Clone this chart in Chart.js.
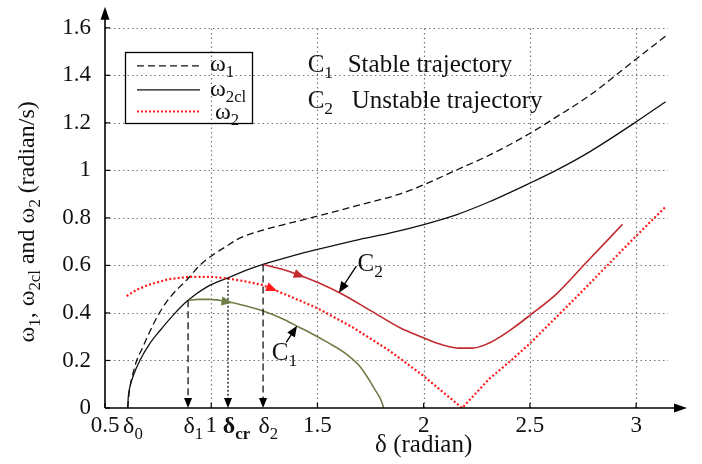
<!DOCTYPE html>
<html>
<head>
<meta charset="utf-8">
<script src="https://cdn.jsdelivr.net/npm/chart.js@4/dist/chart.umd.min.js"></script>
<style>
html, body { margin: 0; padding: 0; background: #fff; }
#wrap { width: 702px; height: 464px; }
</style>
</head>
<body>
<div id="wrap"><canvas id="chart" width="702" height="464"></canvas></div>
<script>
// Values: delta (radian) vs omega (radian/s)
const omega1X = [0.607, 0.612, 0.620, 0.633, 0.649, 0.675, 0.710, 0.756, 0.810, 0.891, 0.946, 1.001, 1.070, 1.134, 1.230, 1.338, 1.495, 1.700, 1.886, 1.996, 2.153, 2.309, 2.497, 2.623, 2.779, 2.998, 3.139];
const omega1Y = [0.000, 0.050, 0.100, 0.150, 0.200, 0.250, 0.320, 0.400, 0.470, 0.545, 0.600, 0.640, 0.680, 0.715, 0.745, 0.771, 0.806, 0.855, 0.900, 0.938, 1.001, 1.064, 1.154, 1.224, 1.314, 1.467, 1.565];

const omega2clX = [0.607, 0.609, 0.617, 0.635, 0.664, 0.710, 0.758, 0.820, 0.891, 0.980, 1.079, 1.160, 1.244, 1.370, 1.495, 1.700, 1.839, 1.996, 2.153, 2.309, 2.497, 2.623, 2.779, 2.998, 3.139];
const omega2clY = [0.000, 0.040, 0.088, 0.140, 0.200, 0.270, 0.325, 0.390, 0.453, 0.510, 0.548, 0.578, 0.604, 0.637, 0.666, 0.710, 0.736, 0.771, 0.813, 0.868, 0.945, 1.000, 1.077, 1.203, 1.289];

const omega2X = [0.602, 0.650, 0.711, 0.800, 0.891, 1.001, 1.079, 1.160, 1.244, 1.370, 1.495, 1.667, 1.839, 1.996, 2.181, 2.309, 2.419, 2.497, 2.716, 2.998, 3.139];
const omega2Y = [0.471, 0.498, 0.520, 0.542, 0.552, 0.552, 0.545, 0.533, 0.517, 0.470, 0.422, 0.339, 0.241, 0.137, 0.000, 0.123, 0.206, 0.269, 0.464, 0.722, 0.847];

const stableX = [0.891, 0.940, 0.993, 1.079, 1.160, 1.244, 1.330, 1.416, 1.463, 1.550, 1.636, 1.700, 1.745, 1.772, 1.792, 1.805, 1.811];
const stableY = [0.453, 0.457, 0.457, 0.447, 0.430, 0.408, 0.378, 0.339, 0.318, 0.275, 0.227, 0.175, 0.116, 0.075, 0.046, 0.020, 0.000];

const unstableX = [1.244, 1.330, 1.416, 1.510, 1.604, 1.750, 1.886, 1.996, 2.080, 2.168, 2.231, 2.300, 2.356, 2.419, 2.497, 2.623, 2.763, 2.936];
const unstableY = [0.604, 0.585, 0.559, 0.525, 0.485, 0.410, 0.339, 0.297, 0.268, 0.252, 0.252, 0.270, 0.297, 0.335, 0.388, 0.478, 0.610, 0.773];

// Angle marks on the delta axis
const markValues = [0.607, 0.891, 1.079, 1.244];
const markSubs = ['0', '1', 'cr', '2'];

const X_MIN = 0.5, X_MAX = 3.15, Y_MIN = 0, Y_MAX = 1.6;
const SERIF = "'Liberation Serif', 'Times New Roman', serif";
const DARK_RED = '#c22a2e';
const OLIVE = '#6f7d48';

function toPoints(xs, ys) {
    return xs.map((v, i) => ({ x: v, y: ys[i] }));
}

// Linear lookup on a read-off curve, used to sit the arrowheads on it
function lookup(xs, ys, v) {
    for (let i = 0; i < xs.length - 1; i++) {
        if (v >= xs[i] && v <= xs[i + 1]) {
            const t = (v - xs[i]) / (xs[i + 1] - xs[i]);
            return ys[i] + t * (ys[i + 1] - ys[i]);
        }
    }
    return ys[ys.length - 1];
}

function font(size, bold) {
    return `${bold ? 'bold ' : ''}${size}px ${SERIF}`;
}

// parts: [text, isSubscript, isBold]
function richWidth(ctx, parts, size) {
    let w = 0;
    parts.forEach(p => {
        ctx.font = font(p[1] ? size * 0.7 : size, p[2]);
        w += ctx.measureText(p[0]).width;
    });
    return w;
}

function drawRich(ctx, parts, x, y, size) {
    let cx = x;
    ctx.textAlign = 'left';
    ctx.textBaseline = 'alphabetic';
    parts.forEach(p => {
        ctx.font = font(p[1] ? size * 0.7 : size, p[2]);
        ctx.fillText(p[0], cx, y + (p[1] ? size * 0.24 : 0));
        cx += ctx.measureText(p[0]).width;
    });
}

function arrowHead(ctx, tipX, tipY, fromX, fromY, len, half, color) {
    const a = Math.atan2(tipY - fromY, tipX - fromX);
    const bx = tipX - len * Math.cos(a), by = tipY - len * Math.sin(a);
    ctx.beginPath();
    ctx.moveTo(tipX, tipY);
    ctx.lineTo(bx + half * Math.sin(a), by - half * Math.cos(a));
    ctx.lineTo(bx - half * Math.sin(a), by + half * Math.cos(a));
    ctx.closePath();
    ctx.fillStyle = color;
    ctx.fill();
}

function line(ctx, x1, y1, x2, y2) {
    ctx.beginPath();
    ctx.moveTo(x1, y1);
    ctx.lineTo(x2, y2);
    ctx.stroke();
}

function tickValues(scale, step, lo, hi) {
    const vals = scale.ticks.map(t => t.value);
    if (vals.length) return vals;
    const out = [];
    for (let v = lo; v <= hi + 1e-9; v += step) out.push(v);
    return out;
}

// Dotted grid, limited to the 0.5..3.15 x 0..1.6 box
function drawGrid(chart) {
    const { ctx, scales: { x, y } } = chart;
    ctx.save();
    ctx.strokeStyle = '#767676';
    ctx.lineWidth = 1.2;
    ctx.setLineDash([1.5, 3]);
    tickValues(x, 0.5, X_MIN, 3).forEach(v => {
        if (v <= X_MIN + 1e-9) return;
        const px = Math.round(x.getPixelForValue(v)) + 0.5;
        line(ctx, px, y.getPixelForValue(Y_MIN), px, y.getPixelForValue(Y_MAX));
    });
    tickValues(y, 0.2, Y_MIN, Y_MAX).forEach(v => {
        if (v <= Y_MIN + 1e-9) return;
        const py = Math.round(y.getPixelForValue(v)) + 0.5;
        line(ctx, x.getPixelForValue(X_MIN), py, x.getPixelForValue(X_MAX), py);
    });
    ctx.restore();
}

function drawAxes(chart) {
    const { ctx, chartArea, scales: { x, y } } = chart;
    const ox = x.getPixelForValue(X_MIN), oy = y.getPixelForValue(Y_MIN);
    const topTip = chartArea.top - 21, rightTip = chartArea.right + 19;
    ctx.save();
    ctx.strokeStyle = '#000';
    ctx.lineWidth = 1.6;
    line(ctx, ox, oy, ox, topTip + 8);
    line(ctx, ox, oy, rightTip - 8, oy);
    arrowHead(ctx, ox, topTip, ox, oy, 13, 4.5, '#000');
    arrowHead(ctx, rightTip, oy, ox, oy, 13, 4.5, '#000');
    // short inward tick marks
    ctx.lineWidth = 1.2;
    tickValues(y, 0.2, Y_MIN, Y_MAX).forEach(v => {
        const py = y.getPixelForValue(v);
        line(ctx, ox, py, ox + 5, py);
    });
    tickValues(x, 0.5, X_MIN, 3).forEach(v => {
        const px = x.getPixelForValue(v);
        line(ctx, px, oy, px, oy - 5);
    });
    ctx.restore();
}

// Vertical drops from the omega_2cl curve down to delta_1, delta_cr, delta_2
function drawDropLines(chart) {
    const { ctx, scales: { x, y } } = chart;
    const oy = y.getPixelForValue(0);
    ctx.save();
    ctx.strokeStyle = '#000';
    ctx.lineWidth = 1.2;
    markValues.slice(1).forEach((v, i) => {
        const px = x.getPixelForValue(v);
        const top = y.getPixelForValue(lookup(omega2clX, omega2clY, v));
        ctx.setLineDash(markSubs[i + 1] === 'cr' ? [2, 2] : [7, 4]);
        line(ctx, px, top, px, oy - 9);
        ctx.setLineDash([]);
        arrowHead(ctx, px, oy, px, top, 10, 4, '#000');
    });
    ctx.restore();
}

function curveArrow(chart, xs, ys, tipV, backV, color) {
    const { ctx, scales: { x, y } } = chart;
    arrowHead(ctx,
        x.getPixelForValue(tipV), y.getPixelForValue(lookup(xs, ys, tipV)),
        x.getPixelForValue(backV), y.getPixelForValue(lookup(xs, ys, backV)),
        11, 4.5, color);
}

function pointerArrow(chart, fromXY, tipXY) {
    const { ctx, scales: { x, y } } = chart;
    const fx = x.getPixelForValue(fromXY[0]), fy = y.getPixelForValue(fromXY[1]);
    const tx = x.getPixelForValue(tipXY[0]), ty = y.getPixelForValue(tipXY[1]);
    ctx.save();
    ctx.strokeStyle = '#000';
    ctx.lineWidth = 1.3;
    const a = Math.atan2(ty - fy, tx - fx);
    line(ctx, fx, fy, tx - 9 * Math.cos(a), ty - 9 * Math.sin(a));
    arrowHead(ctx, tx, ty, fx, fy, 11, 4.5, '#000');
    ctx.restore();
}

function drawLegendBox(chart) {
    const { ctx, scales: { x, y } } = chart;
    const left = x.getPixelForValue(0.594), right = x.getPixelForValue(1.191);
    const top = y.getPixelForValue(1.5), bottom = y.getPixelForValue(1.2);
    ctx.save();
    ctx.strokeStyle = '#000';
    ctx.lineWidth = 1.3;
    ctx.strokeRect(Math.round(left) + 0.5, Math.round(top) + 0.5, Math.round(right - left), Math.round(bottom - top));
    const l1 = left + 12, l2 = left + 75;
    const rows = [
        { yv: 1.44, dash: [7, 4], color: '#111', width: 1.3, label: [['ω', 0], ['1', 1]], lx: 0, by: 5 },
        { yv: 1.339, dash: [], color: '#111', width: 1.3, label: [['ω', 0], ['2cl', 1]], lx: 0, by: 6 },
        { yv: 1.248, dash: [2, 2], color: '#ff1a1a', width: 2, label: [['ω', 0], ['2', 1]], lx: 5, by: 8 }
    ];
    rows.forEach(r => {
        const py = y.getPixelForValue(r.yv);
        ctx.strokeStyle = r.color;
        ctx.lineWidth = r.width;
        ctx.setLineDash(r.dash);
        line(ctx, l1, py, l2, py);
        ctx.setLineDash([]);
        ctx.fillStyle = '#111';
        drawRich(ctx, r.label, left + 85 + r.lx, py + r.by, 24);
    });
    ctx.restore();
}

function drawTexts(chart) {
    const { ctx, chartArea, scales: { x, y } } = chart;
    ctx.save();
    ctx.fillStyle = '#111';
    // trajectory key
    const kx = x.getPixelForValue(1.454);
    drawRich(ctx, [['C', 0], ['1', 1]], kx, y.getPixelForValue(1.415), 25);
    drawRich(ctx, [['Stable trajectory', 0]], kx + 40, y.getPixelForValue(1.415), 25);
    drawRich(ctx, [['C', 0], ['2', 1]], kx, y.getPixelForValue(1.261), 25);
    drawRich(ctx, [['Unstable trajectory', 0]], kx + 44, y.getPixelForValue(1.261), 25);
    // curve labels
    drawRich(ctx, [['C', 0], ['1', 1]], x.getPixelForValue(1.285), y.getPixelForValue(0.2), 25);
    drawRich(ctx, [['C', 0], ['2', 1]], x.getPixelForValue(1.689), y.getPixelForValue(0.575), 25);

    // delta marks under the axis
    const base = chartArea.bottom + 25;
    markValues.forEach((v, i) => {
        const bold = markSubs[i] === 'cr';
        ctx.font = font(24, bold);
        const w = ctx.measureText('δ').width;
        drawRich(ctx, [['δ', 0, bold], [markSubs[i], 1, bold]], x.getPixelForValue(v) - w / 2 + 1, base, 24);
    });

    // x title
    const xt = [['δ (radian)', 0]];
    drawRich(ctx, xt, x.getPixelForValue(2) - richWidth(ctx, xt, 25) / 2, chartArea.bottom + 44, 25);

    // y title, rotated
    const yt = [['ω', 0], ['1', 1], [', ω', 0], ['2cl', 1], [' and ω', 0], ['2', 1], [' (radian/s)', 0]];
    ctx.translate(chartArea.left - 71, (chartArea.top + chartArea.bottom) / 2 + 4);
    ctx.rotate(-Math.PI / 2);
    drawRich(ctx, yt, -richWidth(ctx, yt, 24) / 2, 0, 24);
    ctx.restore();
}

const decorPlugin = {
    id: 'decor',
    beforeDatasetsDraw(chart) {
        drawGrid(chart);
    },
    afterDatasetsDraw(chart) {
        const { ctx } = chart;
        drawAxes(chart);
        drawDropLines(chart);
        ctx.save();
        curveArrow(chart, stableX, stableY, 1.10, 1.05, OLIVE);
        curveArrow(chart, omega2X, omega2Y, 1.31, 1.26, '#ff1a1a');
        curveArrow(chart, unstableX, unstableY, 1.44, 1.39, DARK_RED);
        ctx.restore();
        pointerArrow(chart, [1.353, 0.276], [1.404, 0.346]);
        pointerArrow(chart, [1.683, 0.597], [1.601, 0.485]);
        drawLegendBox(chart);
        drawTexts(chart);
    }
};

function lineSet(label, xs, ys, color, width, dash, mode) {
    return {
        label: label,
        data: toPoints(xs, ys),
        showLine: true,
        borderColor: color,
        borderWidth: width,
        borderDash: dash,
        pointRadius: 0,
        pointHoverRadius: 0,
        fill: false,
        cubicInterpolationMode: mode,
        tension: 0
    };
}

const ctx = document.getElementById('chart');
new Chart(ctx, {
    type: 'scatter',
    data: {
        datasets: [
            lineSet('ω2', omega2X, omega2Y, '#ff1a1a', 2.2, [2, 2.2], 'default'),
            lineSet('C1', stableX, stableY, OLIVE, 1.6, [], 'monotone'),
            lineSet('C2', unstableX, unstableY, DARK_RED, 1.6, [], 'monotone'),
            lineSet('ω1', omega1X, omega1Y, '#111', 1.3, [7, 4], 'monotone'),
            lineSet('ω2cl', omega2clX, omega2clY, '#111', 1.3, [], 'monotone')
        ]
    },
    options: {
        responsive: false,
        animation: false,
        layout: { padding: { left: 0, top: 25, right: 34, bottom: 0 } },
        scales: {
            x: {
                type: 'linear',
                min: X_MIN,
                max: X_MAX,
                grid: { display: false, drawTicks: false },
                border: { display: false },
                ticks: {
                    stepSize: 0.5,
                    includeBounds: false,
                    padding: 4,
                    color: '#111',
                    font: { family: SERIF, size: 23 },
                    callback: v => String(Math.round(v * 10) / 10)
                },
                afterFit: s => { s.height = 56; }
            },
            y: {
                type: 'linear',
                min: Y_MIN,
                max: Y_MAX,
                grid: { display: false, drawTicks: false },
                border: { display: false },
                ticks: {
                    stepSize: 0.2,
                    padding: 14,
                    color: '#111',
                    font: { family: SERIF, size: 23 },
                    callback: v => String(Math.round(v * 10) / 10)
                },
                afterFit: s => { s.width = 105; }
            }
        },
        plugins: {
            legend: { display: false },
            tooltip: { enabled: false }
        }
    },
    plugins: [decorPlugin]
});
</script>
</body>
</html>
